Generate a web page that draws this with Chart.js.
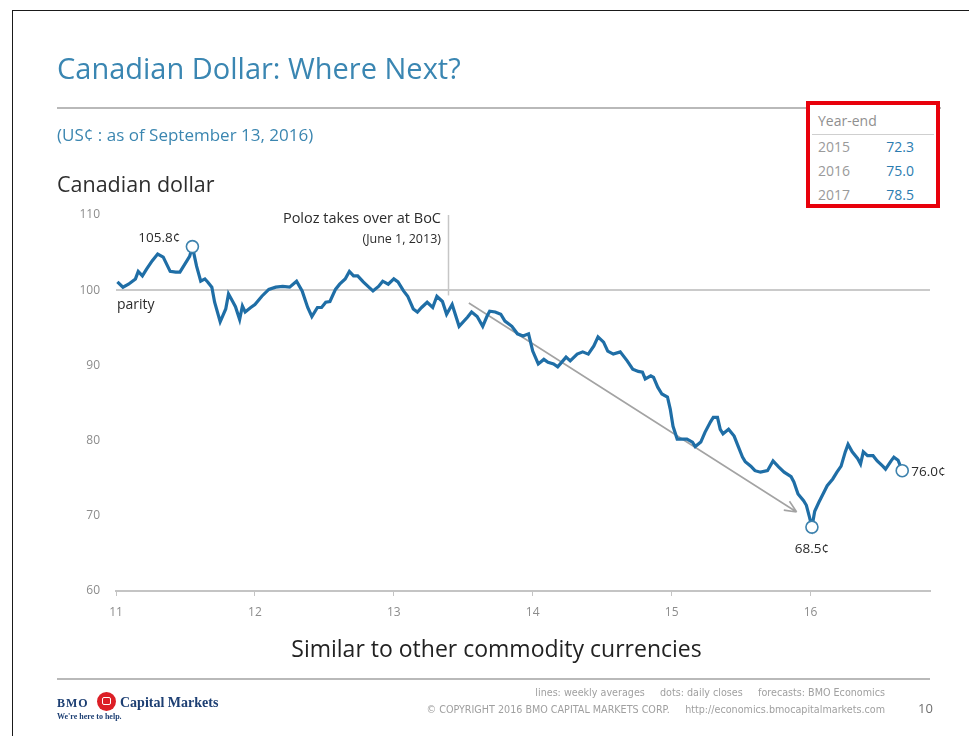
<!DOCTYPE html>
<html>
<head>
<meta charset="utf-8">
<title>Canadian Dollar: Where Next?</title>
<script src="https://cdn.jsdelivr.net/npm/chart.js@4/dist/chart.umd.min.js"></script>
<style>
  html, body { margin: 0; padding: 0; background: #fff; }
  body { width: 969px; height: 736px; position: relative; overflow: hidden; font-family: "Open Sans", "Noto Sans", sans-serif; }
  #frame { position: absolute; left: 12px; top: 10px; width: 1000px; height: 800px; border-left: 1.5px solid #1a1a1a; border-top: 1.5px solid #1a1a1a; }
  #chart { position: absolute; left: 0; top: 0; }
  .t { position: absolute; white-space: nowrap; line-height: 1; }
  .rule { position: absolute; height: 2px; background: #b9b9b9; }
  #title { left: 57px; top: 53px; font-size: 29px; color: #3a86b2; }
  #sub { left: 57px; top: 126px; font-size: 17px; color: #3b86b0; }
  #ctitle { left: 57px; top: 173px; font-size: 21.5px; color: #2e2e2e; }
  #note { left: 0; width: 993px; text-align: center; top: 637px; font-size: 23px; color: #222; }
  #box { position: absolute; left: 806px; top: 101px; width: 126px; height: 99px; border: 4px solid #e8000b; background: #fff; overflow: hidden; }
  #box .t { font-size: 14px; }
  #box .yr { color: #9a9a9a; left: 8px; }
  #box .val { color: #2b7cb0; right: 22px; text-align: right; }
  #box .hdr { color: #8f8f8f; left: 8px; top: 9px; }
  #box .div { position: absolute; left: 2px; right: 2px; top: 29px; height: 1px; background: #cfcfcf; }
  #logo { position: absolute; left: 57px; top: 692px; }
  .bmo { position: absolute; font-family: "Liberation Serif", serif; font-weight: bold; color: #1d3f73; white-space: nowrap; line-height: 1; }
  #roundel { position: absolute; left: 40px; top: 0px; width: 19px; height: 19px; border-radius: 50%; background: #dc1f26; }
  #roundel::after { content: ""; position: absolute; left: 5px; top: 5px; width: 9px; height: 8px; border: 1.5px solid #fff; border-radius: 2px; box-sizing: border-box; }
  .foot { position: absolute; right: 84px; font-family: "DejaVu Sans", "Liberation Sans", sans-serif; font-size: 9.6px; color: #a0a0a0; white-space: nowrap; line-height: 1; text-align: right; }
  #page { left: 918px; top: 702px; font-size: 13px; color: #707070; }
</style>
</head>
<body>
<div id="frame"></div>
<canvas id="chart" width="969" height="736"></canvas>

<div class="t" id="title">Canadian Dollar: Where Next?</div>
<div class="rule" style="left:57px; width:884px; top:107px;"></div>
<div class="t" id="sub">(US¢ : as of September 13, 2016)</div>
<div class="t" id="ctitle">Canadian dollar</div>

<div id="box"></div>

<div class="t" id="note">Similar to other commodity currencies</div>
<div class="rule" style="left:57px; width:873px; top:678px;"></div>

<div id="logo">
  <div class="bmo" style="left:0; top:5px; font-size:12px; letter-spacing:1px;">BMO</div>
  <div id="roundel"></div>
  <div class="bmo" style="left:63px; top:4px; font-size:14px;">Capital Markets</div>
  <div class="bmo" style="left:0; top:21px; font-size:8px;">We're here to help.</div>
</div>
<div class="foot" id="f1" style="top:688px;">lines: weekly averages &nbsp;&nbsp;&nbsp; dots: daily closes &nbsp;&nbsp;&nbsp; forecasts: BMO Economics</div>
<div class="foot" id="f2" style="top:705px;">© COPYRIGHT 2016 BMO CAPITAL MARKETS CORP. &nbsp;&nbsp;&nbsp; http://economics.bmocapitalmarkets.com</div>
<div class="t" id="page">10</div>

<script>
// Canadian dollar in US cents, weekly averages (x = decimal year, 11 = 2011)
const weekDates = [
  11.01, 11.05, 11.09, 11.14, 11.16, 11.19, 11.22, 11.26, 11.30, 11.34,
  11.39, 11.43, 11.46, 11.51, 11.53, 11.55, 11.58, 11.61, 11.64, 11.66,
  11.69, 11.71, 11.75, 11.79, 11.81, 11.84, 11.86, 11.89, 11.91, 11.93,
  11.97, 12.00, 12.05, 12.10, 12.15, 12.20,
  12.25, 12.30, 12.34, 12.38, 12.41, 12.45, 12.48, 12.51, 12.54, 12.58,
  12.61, 12.65, 12.68, 12.71, 12.74, 12.78, 12.82, 12.85, 12.89, 12.92,
  12.96, 13.00, 13.03, 13.07, 13.10, 13.14, 13.17, 13.20, 13.24, 13.28,
  13.31, 13.35, 13.38, 13.42,
  13.47, 13.53, 13.56, 13.60, 13.64, 13.67, 13.69, 13.73, 13.77, 13.80,
  13.85, 13.89, 13.93, 13.97, 14.00, 14.04, 14.08, 14.11, 14.15, 14.18,
  14.24, 14.27, 14.32, 14.36, 14.40, 14.44, 14.47, 14.51, 14.54, 14.58,
  14.63,
  14.68, 14.72, 14.76, 14.79, 14.81, 14.85, 14.87, 14.90, 14.93, 14.97,
  14.99, 15.01, 15.04, 15.08, 15.11, 15.15, 15.17, 15.21, 15.24, 15.28,
  15.30, 15.33, 15.35, 15.37, 15.41, 15.45, 15.48, 15.51, 15.53, 15.57,
  15.60, 15.64, 15.69, 15.73, 15.77, 15.81, 15.86, 15.88, 15.91, 15.95,
  15.97, 15.99, 16.01, 16.03, 16.06, 16.09, 16.12, 16.16, 16.19, 16.22,
  16.25, 16.27, 16.30, 16.34, 16.36, 16.38, 16.41, 16.45, 16.48, 16.52,
  16.54, 16.58, 16.60, 16.63, 16.66
];
const cadUsd = [
  101.1, 100.4, 100.8, 101.5, 102.5, 101.9, 102.8, 103.9, 104.8, 104.4,
  102.5, 102.4, 102.4, 103.9, 104.5, 105.8, 103.2, 101.2, 101.5, 101.1,
  100.4, 98.4, 95.8, 97.5, 99.5, 98.5, 97.8, 96.1, 97.9, 97.1,
  97.7, 98.1, 99.2, 100.1, 100.4, 100.5,
  100.4, 101.2, 99.9, 97.7, 96.5, 97.7, 97.7, 98.4, 98.5, 100.1,
  100.8, 101.5, 102.5, 101.9, 101.9, 101.1, 100.4, 99.9, 100.5, 101.2,
  100.8, 101.5, 101.1, 99.9, 99.2, 97.5, 97.1, 97.7, 98.4, 97.7,
  99.2, 98.5, 96.8, 98.1,
  95.2, 96.4, 97.1, 96.5, 95.2, 96.5, 97.2, 97.1, 96.8, 95.9,
  95.2, 94.2, 93.9, 94.2, 91.9, 90.2, 90.8, 90.4, 90.2, 89.8,
  91.1, 90.6, 91.5, 91.8, 91.5, 92.6, 93.8, 93.1, 91.9, 91.5,
  91.8,
  90.6, 89.5, 89.2, 89.1, 88.2, 88.6, 88.4, 87.1, 86.2, 85.8,
  84.2, 81.9, 80.2, 80.2, 80.2, 79.8, 79.2, 79.8, 81.1, 82.5,
  83.1, 83.1, 81.5, 80.9, 81.5, 80.6, 79.2, 77.8, 77.2, 76.6,
  76.0, 75.8, 76.0, 77.3, 76.5, 75.8, 75.2, 74.5, 72.9, 72.0,
  71.4, 70.0, 68.5, 70.6, 71.8, 72.9, 74.0, 74.9, 75.8, 76.6,
  78.5, 79.5, 78.5, 77.6, 76.9, 78.5, 78.0, 78.0, 77.3, 76.6,
  76.2, 77.3, 77.8, 77.4, 76.0
];

// Daily closes marked with dots: 2011 high, 2016 low, latest
const dotDates = [11.55, 16.01, 16.66];
const dotValues = [105.8, 68.5, 76.0];

// Year-end forecasts
const forecastYears = ['2015', '2016', '2017'];
const forecastValues = [72.3, 75.0, 78.5];

// Axis tick labels
const yearTicks = ['11', '12', '13', '14', '15', '16'];
const centTicks = [60, 70, 80, 90, 100, 110];

// Poloz takes over at the BoC (June 1, 2013) and the downtrend arrow
const polozDate = 13.39;
const trendFrom = [13.54, 98.3];
const trendTo = [15.90, 70.5];
const parityLevel = 100;

// Forecast table
(function buildBox() {
  const box = document.getElementById('box');
  let html = '<div class="t hdr">Year-end</div><div class="div"></div>';
  forecastYears.forEach((yr, i) => {
    const top = 35 + i * 24;
    html += `<div class="t yr" style="top:${top}px">${yr}</div>`;
    html += `<div class="t val" style="top:${top}px">${forecastValues[i].toFixed(1)}</div>`;
  });
  box.innerHTML = html;
})();

const LINE_BLUE = '#1f6ea6';
const TEXT_DARK = '#2b2b2b';
const annoFont = '"Open Sans", "Noto Sans", sans-serif';

// Label placement for each dot (offsets in px from the dot)
const dotLabelPlacement = [
  { align: 'right', dx: -12, dy: -5 },
  { align: 'center', dx: 0, dy: 26 },
  { align: 'left', dx: 9, dy: 5 }
];

const annotate = {
  id: 'annotate',
  beforeDatasetsDraw(chart) {
    const { ctx, chartArea, scales: { x, y } } = chart;
    ctx.save();
    // vertical marker for the change of governor
    const px = Math.round(x.getPixelForValue(polozDate)) + 0.5;
    ctx.strokeStyle = '#c6c6c6';
    ctx.lineWidth = 1.5;
    ctx.beginPath();
    ctx.moveTo(px, chartArea.top);
    ctx.lineTo(px, y.getPixelForValue(99.3));
    ctx.stroke();

    // trend arrow
    const x0 = x.getPixelForValue(trendFrom[0]), y0 = y.getPixelForValue(trendFrom[1]);
    const x1 = x.getPixelForValue(trendTo[0]), y1 = y.getPixelForValue(trendTo[1]);
    ctx.strokeStyle = '#a3a3a3';
    ctx.lineWidth = 1.6;
    ctx.beginPath();
    ctx.moveTo(x0, y0);
    ctx.lineTo(x1, y1);
    const a = Math.atan2(y1 - y0, x1 - x0);
    [-0.42, 0.42].forEach(s => {
      ctx.moveTo(x1, y1);
      ctx.lineTo(x1 - 13 * Math.cos(a + s), y1 - 13 * Math.sin(a + s));
    });
    ctx.stroke();
    ctx.restore();
  },
  afterDatasetsDraw(chart) {
    const { ctx, chartArea, scales: { x, y } } = chart;
    ctx.save();
    ctx.fillStyle = TEXT_DARK;
    ctx.textBaseline = 'alphabetic';

    // governor note
    const px = x.getPixelForValue(polozDate);
    ctx.textAlign = 'right';
    ctx.font = `14.5px ${annoFont}`;
    ctx.fillText('Poloz takes over at BoC', px - 7, chartArea.top + 8);
    ctx.font = `12.5px ${annoFont}`;
    ctx.fillText('(June 1, 2013)', px - 7, chartArea.top + 28);

    // parity label
    ctx.textAlign = 'left';
    ctx.font = `14px ${annoFont}`;
    ctx.fillText('parity', chartArea.left + 1, y.getPixelForValue(parityLevel) + 19);

    // dot labels
    ctx.font = `13.5px ${annoFont}`;
    const meta = chart.getDatasetMeta(1);
    meta.data.forEach((pt, i) => {
      const p = dotLabelPlacement[i];
      ctx.textAlign = p.align;
      ctx.fillText(dotValues[i].toFixed(1) + '¢', pt.x + p.dx, pt.y + p.dy);
    });
    ctx.restore();
  }
};

new Chart(document.getElementById('chart'), {
  type: 'line',
  data: {
    datasets: [
      {
        label: 'Canadian dollar',
        data: weekDates.map((d, i) => ({ x: d, y: cadUsd[i] })),
        borderColor: LINE_BLUE,
        borderWidth: 3.2,
        pointRadius: 0,
        tension: 0,
        order: 1
      },
      {
        label: 'Daily closes',
        data: dotDates.map((d, i) => ({ x: d, y: dotValues[i] })),
        showLine: false,
        pointRadius: 6,
        pointBackgroundColor: '#ffffff',
        pointBorderColor: '#3d82ad',
        pointBorderWidth: 1.6,
        order: 0
      }
    ]
  },
  options: {
    responsive: false,
    animation: false,
    devicePixelRatio: 1,
    layout: { padding: { left: 56, right: 39, top: 215, bottom: 115 } },
    plugins: { legend: { display: false }, tooltip: { enabled: false } },
    scales: {
      x: {
        type: 'linear',
        min: 11,
        max: 16.86,
        afterFit(s) { s.height = 30; },
        border: { display: true, color: '#c4c4c4', width: 2 },
        grid: { drawOnChartArea: false, drawTicks: true, tickLength: 5, color: '#c4c4c4' },
        ticks: {
          stepSize: 1,
          includeBounds: false,
          padding: 9,
          color: '#8c8c8c',
          font: { family: annoFont, size: 12 },
          callback: v => yearTicks[Math.round(v) - 11]
        }
      },
      y: {
        min: centTicks[0],
        max: centTicks[centTicks.length - 1],
        afterFit(s) { s.width = 60; },
        border: { display: false },
        grid: {
          drawTicks: false,
          lineWidth: 2,
          color: c => (c.tick && c.tick.value === parityLevel) ? '#cacaca' : 'rgba(0,0,0,0)'
        },
        ticks: {
          stepSize: 10,
          padding: 16,
          color: '#8c8c8c',
          font: { family: annoFont, size: 12 }
        }
      }
    }
  },
  plugins: [annotate]
});
</script>
</body>
</html>
